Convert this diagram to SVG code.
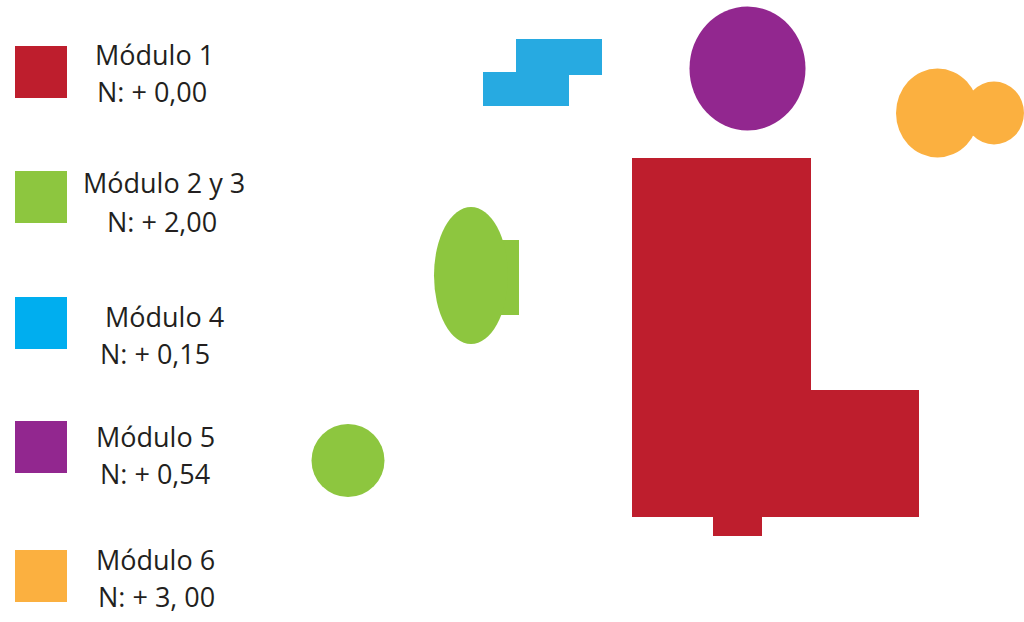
<svg xmlns="http://www.w3.org/2000/svg" width="1024" height="622" viewBox="0 0 1024 622">
<style>
text{font-family:"Open Sans","Noto Sans",sans-serif;font-size:27px;fill:#231F20}
.red{fill:#BE1E2D}.green{fill:#8DC63F}.blue{fill:#00AEEF}.blue2{fill:#27AAE1}.purple{fill:#92278F}.orange{fill:#FBB040}
</style>
<rect width="1024" height="622" fill="#fff"/>
<g id="legend">
<g id="leg1"><rect class="red" x="15" y="46" width="52" height="52"/><text x="95" y="65">Módulo 1</text><text x="97" y="102">N: + 0,00</text></g>
<g id="leg2"><rect class="green" x="15" y="171" width="52" height="52"/><text x="83" y="193">Módulo 2 y 3</text><text x="107" y="232">N: + 2,00</text></g>
<g id="leg3"><rect class="blue" x="15" y="297" width="52" height="52"/><text x="105" y="327">Módulo 4</text><text x="100" y="364">N: + 0,15</text></g>
<g id="leg4"><rect class="purple" x="15" y="421" width="52" height="52"/><text x="96" y="447">Módulo 5</text><text x="100" y="484">N: + 0,54</text></g>
<g id="leg5"><rect class="orange" x="15" y="550" width="52" height="52"/><text x="96" y="570">Módulo 6</text><text x="98" y="607">N: + 3, 00</text></g>
</g>
<g id="modulo4"><rect class="blue2" x="516" y="39" width="86" height="36"/><rect class="blue2" x="483" y="72" width="86" height="34"/></g>
<g id="modulo5"><ellipse class="purple" cx="747.5" cy="68.5" rx="58" ry="62"/></g>
<g id="modulo6"><ellipse class="orange" cx="994" cy="113" rx="30" ry="31.5"/><ellipse class="orange" cx="937.5" cy="113" rx="41.5" ry="44.5"/></g>
<g id="modulo2"><rect class="green" x="480" y="240" width="39" height="75"/><ellipse class="green" cx="471" cy="275.5" rx="37" ry="68.5"/></g>
<g id="modulo3"><circle class="green" cx="348" cy="460.5" r="36.5"/></g>
<g id="modulo1"><path class="red" d="M632 158H811V390H919V517H762V536H713V517H632Z"/></g>
<g id="connectors"/>
</svg>
